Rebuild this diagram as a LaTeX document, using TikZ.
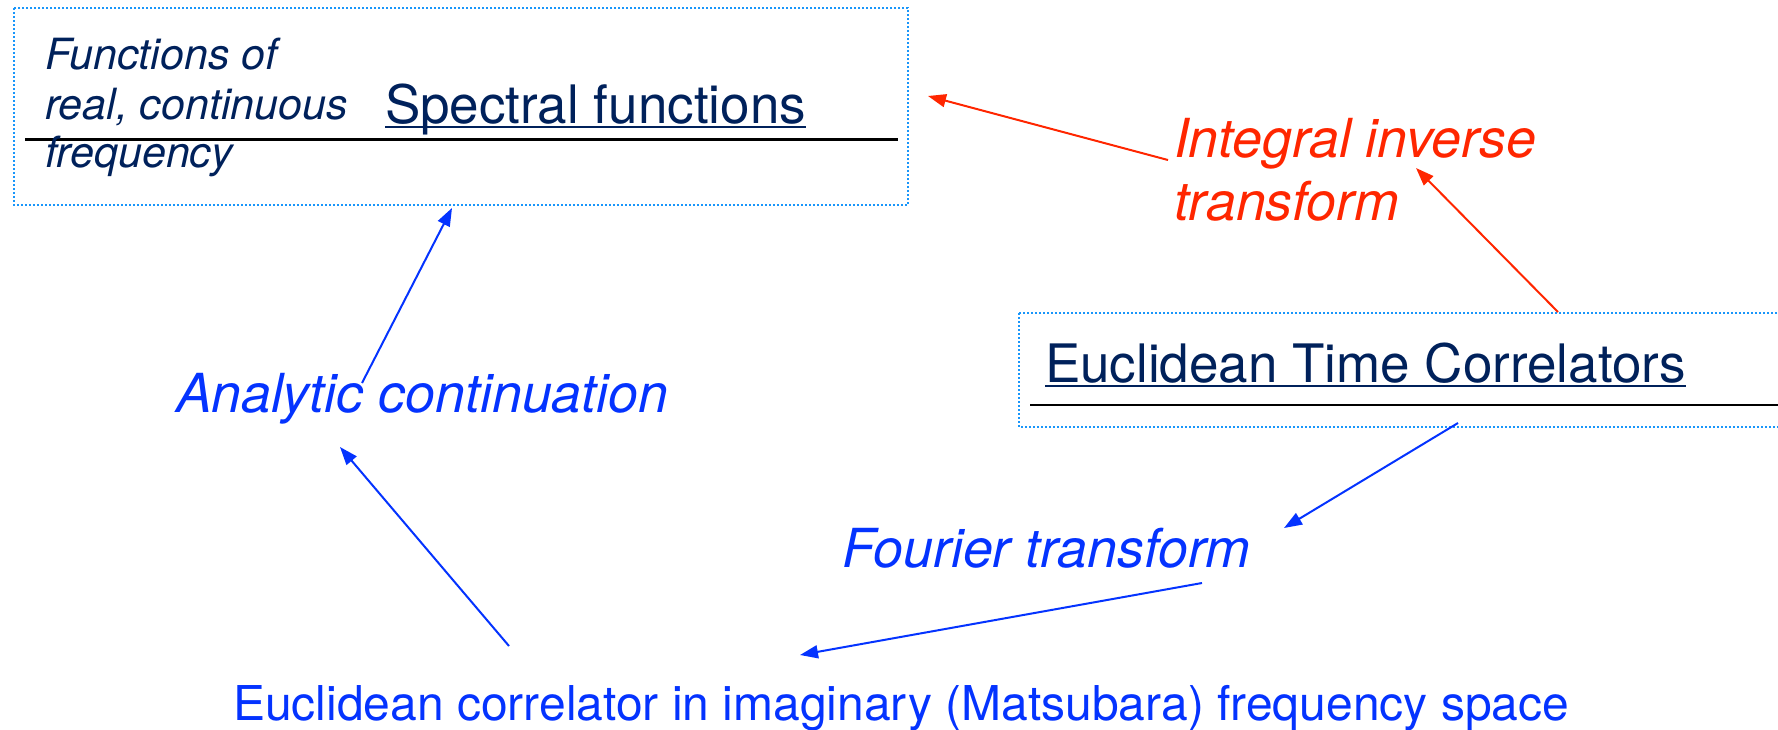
\documentclass[tikz,border=0pt]{standalone}
\usepackage{fontspec}
\setmainfont{TeX Gyre Heros}
\usetikzlibrary{arrows.meta}
\definecolor{navy}{RGB}{0,33,91}
\definecolor{kblue}{RGB}{4,51,255}
\definecolor{kred}{RGB}{255,38,0}
\definecolor{dotblue}{RGB}{25,150,250}
\tikzset{
  txt/.style={inner sep=0pt, outer sep=0pt, anchor=base west},
  big/.style={txt, font=\fontsize{53}{60}\selectfont},
  bigit/.style={txt, font=\fontsize{53.8}{60}\selectfont\itshape},
  small/.style={txt, font=\fontsize{43}{48}\selectfont\itshape, text=navy},
  dotbox/.style={draw=dotblue, line width=2pt, dash pattern=on 2pt off 2pt},
  rule/.style={draw=black, line width=2.5pt},
  uline/.style={draw=navy, line width=2pt},
  bluearr/.style={draw=kblue, line width=2pt, -{Triangle[length=18pt,width=13pt]}},
  redarr/.style={draw=kred, line width=2pt, -{Triangle[length=18pt,width=13pt]}}
}
\begin{document}
\begin{tikzpicture}[x=1pt,y=-1pt]
\useasboundingbox (0,0) rectangle (1778,729);
\clip (0,0) rectangle (1778,729);
% top-left box
\draw[dotbox] (14,8) rectangle (908,205);
\draw[rule] (25,139.5) -- (898,139.5);
\node[small] (f1) at (45,69) {Functions of};
\node[small] (f2) at (45,119) {real, continuous};
\node[small] (f3) at (45,167) {frequency};
\node[big, text=navy] (spec) at (385,123) {Spectral functions};
\draw[uline] ([yshift=-4pt]spec.base west) -- ([yshift=-4pt]spec.base east);
% right box
\draw[dotbox] (1019,313) rectangle (1800,427);
\draw[rule] (1030,405) -- (1800,405);
\node[big, text=navy] (etc) at (1045,382) {Euclidean Time Correlators};
\draw[uline] ([yshift=-4pt]etc.base west) -- ([yshift=-4pt]etc.base east);
% red label
\node[bigit, text=kred] (iit1) at (1174,157) {Integral inverse};
\node[bigit, text=kred] (iit2) at (1174,220) {transform};
% blue labels
\node[bigit, text=kblue] (ac) at (176,412) {Analytic continuation};
\node[bigit, text=kblue] (ft) at (842,567) {Fourier transform};
\node[txt, text=kblue, font=\fontsize{48}{56}\selectfont] (mats) at (233,720) {Euclidean correlator in imaginary (Matsubara) frequency space};
% connector end points
\coordinate (r1s) at (1168,160);
\coordinate (r1e) at (928,96);
\coordinate (r2s) at (1558,312);
\coordinate (r2e) at (1416,168);
\coordinate (b1s) at (362,383);
\coordinate (b1e) at (452,208);
\coordinate (b2s) at (509,646);
\coordinate (b2e) at (340,447);
\coordinate (b3s) at (1458,423);
\coordinate (b3e) at (1284,528);
\coordinate (b4s) at (1202,583);
\coordinate (b4e) at (800,655);
\draw[redarr] (r1s) -- (r1e);
\draw[redarr] (r2s) -- (r2e);
\draw[bluearr] (b1s) -- (b1e);
\draw[bluearr] (b2s) -- (b2e);
\draw[bluearr] (b3s) -- (b3e);
\draw[bluearr] (b4s) -- (b4e);
\end{tikzpicture}
\end{document}
